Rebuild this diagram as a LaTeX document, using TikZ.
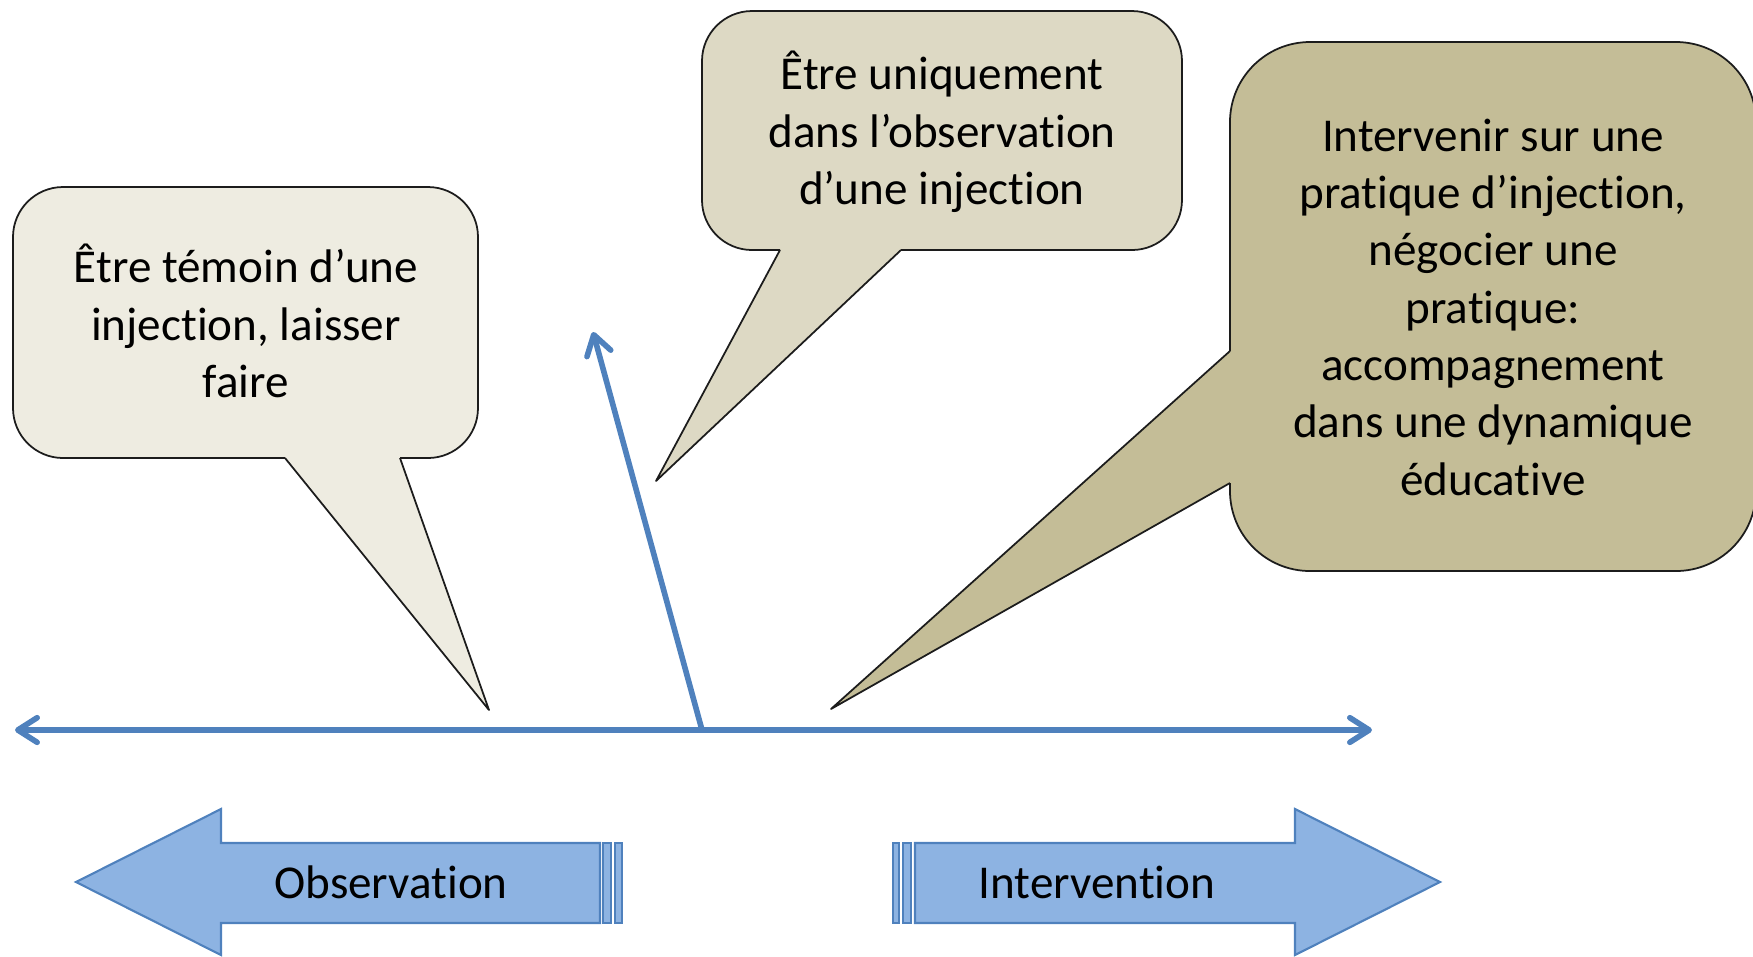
\documentclass[tikz,border=0pt]{standalone}
\usepackage{fontspec}
\setmainfont{Carlito}[Ligatures=NoCommon]
\usetikzlibrary{arrows.meta}
\definecolor{paleA}{HTML}{EEECE1}
\definecolor{paleB}{HTML}{DDD9C4}
\definecolor{paleC}{HTML}{C4BD97}
\definecolor{axisblue}{HTML}{4F81BD}
\definecolor{arrowfill}{HTML}{8DB3E2}
\definecolor{edgeink}{HTML}{1C1C1C}
\tikzset{
  label text/.style={font=\fontsize{13.4}{16.3}\selectfont, align=center, text=black, inner sep=0pt},
  bubble line/.style={draw=edgeink, line width=0.5pt, line join=round},
  axis line/.style={draw=axisblue, line width=1.6pt},
  barb/.tip={Straight Barb[length=5.5pt, width=7pt, round]},
  block/.style={fill=arrowfill, draw=axisblue, line width=0.6pt, line join=miter},
}
\begin{document}
\begin{tikzpicture}[x=0.01cm, y=-0.01cm]
\useasboundingbox (0,0) rectangle (1753,956);

% ---- left speech bubble ----
\fill[paleA, rounded corners=0.5cm] (13,187) rectangle (478,458);
\fill[paleA] (285,440) -- (285,458) -- (489,710) -- (400,458) -- (400,440) -- cycle;
\draw[bubble line, rounded corners=0.5cm] (400,458) -- (478,458) -- (478,187) -- (13,187) -- (13,458) -- (285,458);
\draw[bubble line] (285,458) -- (489,710) -- (400,458);
\node[label text] (witness) at (246,321) {Être témoin d’une\\injection, laisser\\faire};

% ---- middle speech bubble ----
\fill[paleB, rounded corners=0.5cm] (702,11) rectangle (1182,250);
\fill[paleB] (780,232) -- (780,250) -- (656,481) -- (901,250) -- (901,232) -- cycle;
\draw[bubble line, rounded corners=0.5cm] (901,250) -- (1182,250) -- (1182,11) -- (702,11) -- (702,250) -- (780,250);
\draw[bubble line] (780,250) -- (656,481) -- (901,250);
\node[label text] (observer) at (942,132) {Être uniquement\\dans l’observation\\d’une injection};

% ---- right speech bubble ----
\fill[paleC, rounded corners=0.8cm] (1230,42) rectangle (1756,571);
\fill[paleC] (1245,351) -- (1230,351) -- (831,709) -- (1230,483) -- (1245,483) -- cycle;
\draw[bubble line, rounded corners=0.8cm] (1230,483) -- (1230,571) -- (1756,571) -- (1756,42) -- (1230,42) -- (1230,351);
\draw[bubble line] (1230,351) -- (831,709) -- (1230,483);
\node[label text] (intervene) at (1493,307) {Intervenir sur une\\pratique d’injection,\\négocier une\\pratique:\\accompagnement\\dans une dynamique\\éducative};

% ---- axis and rising arrow ----
\coordinate (axisL) at (15,730);
\coordinate (axisR) at (1372,730);
\coordinate (pivot) at (702,730);
\coordinate (rise) at (593,332);
\draw[axis line, {barb}-{barb}] (axisL) -- (axisR);
\draw[axis line, -{barb}, line join=round] (pivot) -- (rise);

% ---- block arrow: Observation ----
\draw[block] (600,843) -- (221,843) -- (221,809) -- (76,882) -- (221,955) -- (221,923) -- (600,923) -- cycle;
\draw[block] (603,843) rectangle (611,923);
\draw[block] (615,843) rectangle (622,923);
\node[label text] (obs) at (391,882) {Observation};

% ---- block arrow: Intervention ----
\draw[block] (915,843) -- (1295,843) -- (1295,809) -- (1440,882) -- (1295,955) -- (1295,923) -- (915,923) -- cycle;
\draw[block] (893,843) rectangle (899,923);
\draw[block] (903,843) rectangle (911,923);
\node[label text] (interv) at (1097,882) {Intervention};
\end{tikzpicture}
\end{document}
